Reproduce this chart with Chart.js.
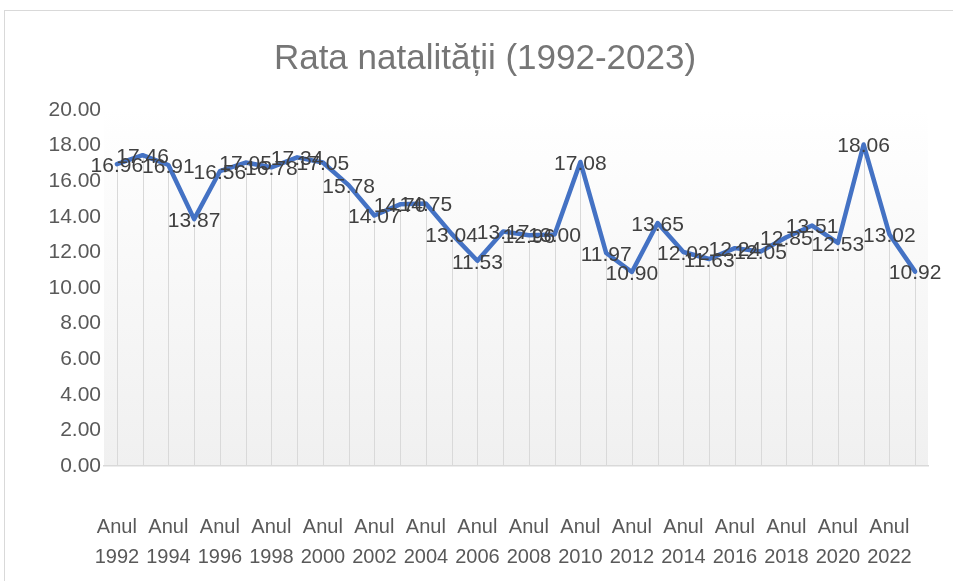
<html>
<head>
    <title>Rata natalitatii</title>
    <meta charset="utf-8"/>
    <script src="https://cdn.jsdelivr.net/npm/chart.js@4"></script>
    <style>
        body { margin: 0; background: #ffffff; overflow: hidden; }
        .chart-container { position: relative; width: 953px; height: 581px; }
    </style>
</head>

<body>
    <div class="chart-container">
        <canvas id="birthChart"></canvas>
    </div>
    <script>
        // data
        const years = [1992, 1993, 1994, 1995, 1996, 1997, 1998, 1999, 2000, 2001,
            2002, 2003, 2004, 2005, 2006, 2007, 2008, 2009, 2010, 2011,
            2012, 2013, 2014, 2015, 2016, 2017, 2018, 2019, 2020, 2021,
            2022, 2023];
        const rates = [16.96, 17.46, 16.91, 13.87, 16.56, 17.05, 16.78, 17.34, 17.05, 15.78,
            14.07, 14.70, 14.75, 13.04, 11.53, 13.17, 12.96, 13.00, 17.08, 11.97,
            10.90, 13.65, 12.02, 11.63, 12.24, 12.05, 12.85, 13.51, 12.53, 18.06,
            13.02, 10.92];
        const labelPrefix = 'Anul';
        const chartTitle = 'Rata natalității (1992-2023)';

        const fontFamily = "'Liberation Sans', Arial, sans-serif";

        // white page, frame and grey gradient plot area
        const backgroundPlugin = {
            id: 'backgroundPlugin',
            beforeDraw(chart) {
                const ctx = chart.ctx;
                const area = chart.chartArea;
                ctx.save();
                ctx.fillStyle = '#ffffff';
                ctx.fillRect(0, 0, chart.width, chart.height);
                ctx.strokeStyle = '#d9d9d9';
                ctx.lineWidth = 1;
                ctx.strokeRect(4.5, 10.5, 1200, 1200);
                const grad = ctx.createLinearGradient(0, area.top, 0, area.bottom);
                grad.addColorStop(0, '#ffffff');
                grad.addColorStop(1, '#f0f0f0');
                ctx.fillStyle = grad;
                ctx.fillRect(area.left, area.top, area.right - area.left, area.bottom - area.top);
                ctx.restore();
            }
        };

        // drop lines from each point down to the axis
        const dropLinesPlugin = {
            id: 'dropLinesPlugin',
            beforeDatasetsDraw(chart) {
                const ctx = chart.ctx;
                const meta = chart.getDatasetMeta(0);
                const bottom = chart.scales.y.getPixelForValue(0);
                ctx.save();
                ctx.strokeStyle = '#d9d9d9';
                ctx.lineWidth = 1;
                meta.data.forEach(function (pt) {
                    const x = Math.round(pt.x) + 0.5;
                    ctx.beginPath();
                    ctx.moveTo(x, pt.y);
                    ctx.lineTo(x, bottom);
                    ctx.stroke();
                });
                ctx.restore();
            }
        };

        // value labels centred on the points
        const valueLabelsPlugin = {
            id: 'valueLabelsPlugin',
            afterDatasetsDraw(chart) {
                const ctx = chart.ctx;
                const meta = chart.getDatasetMeta(0);
                const values = chart.data.datasets[0].data;
                ctx.save();
                ctx.font = '21px ' + fontFamily;
                ctx.fillStyle = '#404040';
                ctx.textAlign = 'center';
                ctx.textBaseline = 'middle';
                meta.data.forEach(function (pt, i) {
                    ctx.fillText(values[i].toFixed(2), pt.x, pt.y + 2);
                });
                ctx.restore();
            }
        };

        const dataRates = {
            labels: years.map(y => [labelPrefix, String(y)]),
            datasets: [{
                label: 'Rata natalității',
                data: rates,
                borderColor: '#4472c4',
                backgroundColor: '#4472c4',
                borderWidth: 4.5,
                pointRadius: 0,
                tension: 0,
                borderJoinStyle: 'round',
                borderCapStyle: 'round',
            }]
        };

        const configRates = {
            type: 'line',
            data: dataRates,
            options: {
                responsive: true,
                maintainAspectRatio: false,
                animation: false,
                layout: {
                    padding: {left: 17, right: 0, top: 0, bottom: 0}
                },
                plugins: {
                    legend: {display: false},
                    tooltip: {enabled: false},
                    title: {
                        display: true,
                        text: chartTitle,
                        color: '#767676',
                        font: {family: fontFamily, size: 35, weight: 'normal'},
                        padding: {top: 38, bottom: 30}
                    }
                },
                scales: {
                    x: {
                        offset: true,
                        grid: {display: false, drawTicks: false},
                        border: {color: '#d9d9d9', width: 1.5},
                        afterFit: function (scale) {
                            scale.height = 115;
                            scale.paddingLeft = 0;
                            scale.paddingRight = 25;
                        },
                        ticks: {
                            autoSkip: false,
                            maxRotation: 0,
                            minRotation: 0,
                            padding: 46,
                            color: '#595959',
                            font: {family: fontFamily, size: 20, lineHeight: 1.5},
                            callback: function (value, index) {
                                return index % 2 === 0 ? this.getLabelForValue(value) : '';
                            }
                        }
                    },
                    y: {
                        min: 0,
                        max: 20,
                        grid: {display: false, drawTicks: false},
                        border: {display: false},
                        afterFit: function (scale) { scale.width = 87; },
                        ticks: {
                            stepSize: 2,
                            padding: 3,
                            color: '#595959',
                            font: {family: fontFamily, size: 21},
                            callback: function (value) { return value.toFixed(2); }
                        }
                    }
                }
            },
            plugins: [backgroundPlugin, dropLinesPlugin, valueLabelsPlugin]
        };

        const birthChart = new Chart(
            document.getElementById('birthChart'),
            configRates
        );
    </script>
</body>
</html>
